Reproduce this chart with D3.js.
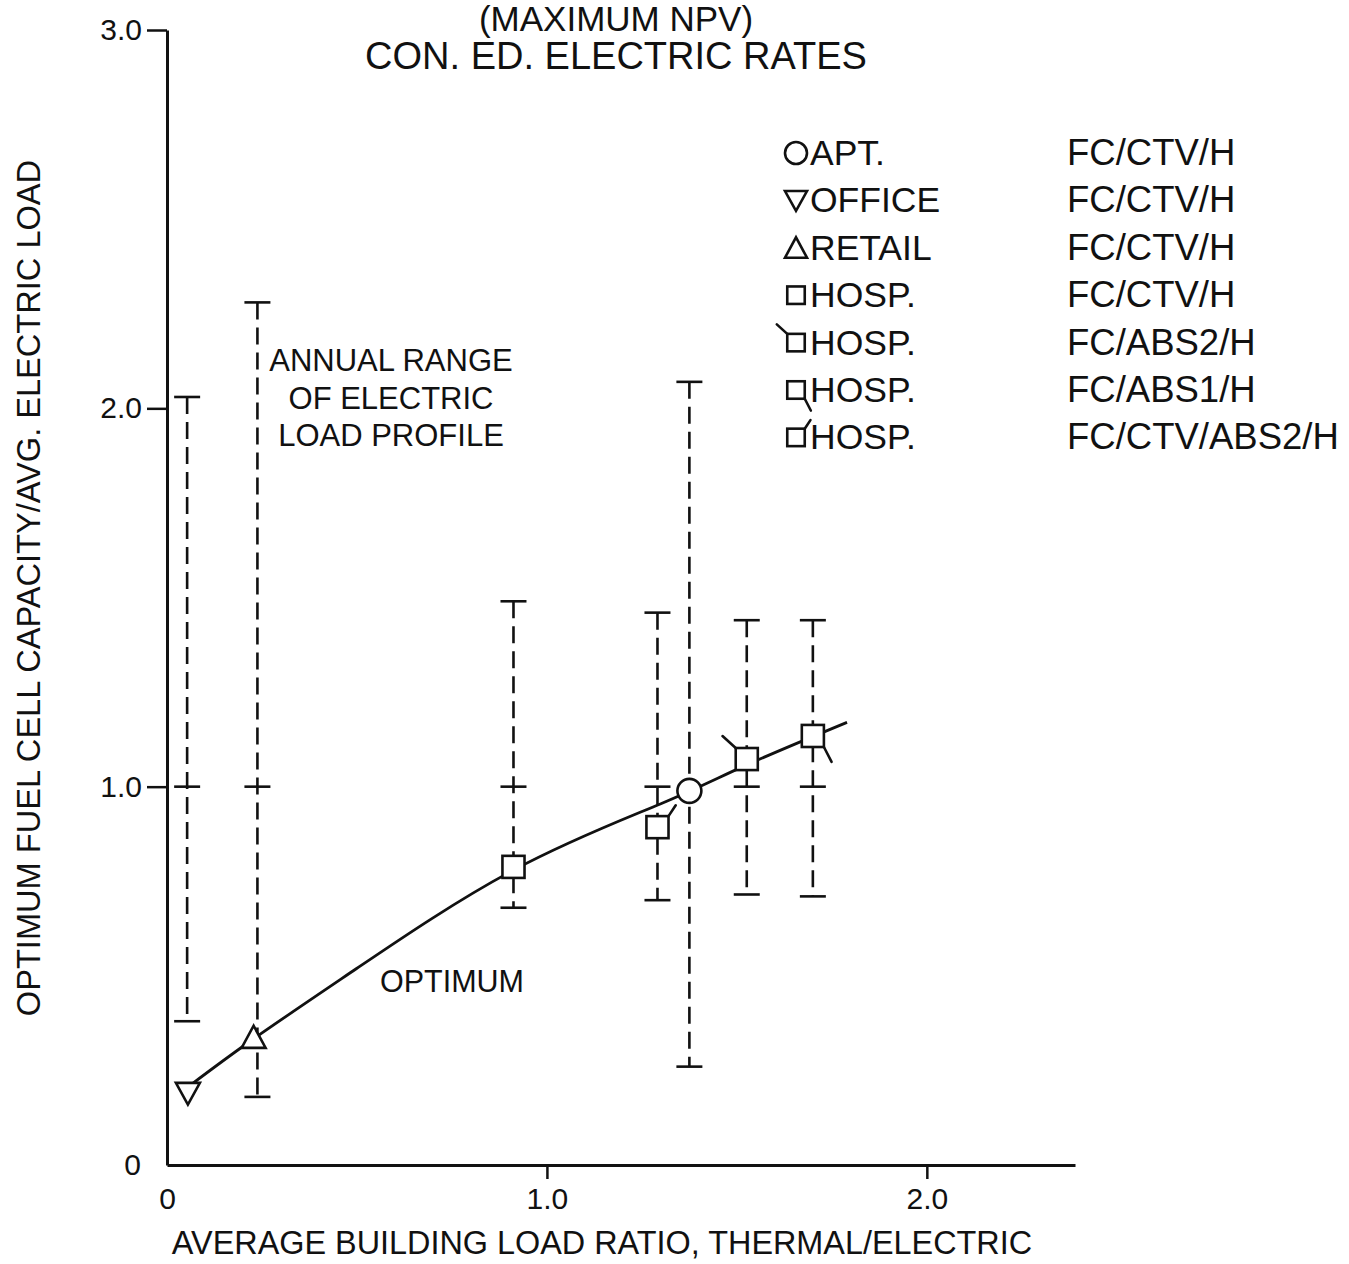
<!DOCTYPE html>
<html>
<head>
<meta charset="utf-8">
<script src="https://cdn.jsdelivr.net/npm/d3@7"></script>
<style>
  html, body { margin: 0; padding: 0; background: #fff; }
  svg { display: block; }
  text { font-family: "Liberation Sans", Arial, Helvetica, sans-serif; fill: #111; }
</style>
</head>
<body>
<div id="chart"></div>
<script>
// Annual range of the electric load profile (min / max of capacity ratio) per building case
const barX    = [0.053, 0.238, 0.912, 1.291, 1.375, 1.526, 1.700];
const barHigh = [2.03, 2.28, 1.49, 1.46, 2.07, 1.44, 1.44];
const barLow  = [0.38, 0.18, 0.68, 0.70, 0.26, 0.715, 0.71];
const barAvg  = [1.0, 1.0, 1.0, 1.0, null, 1.0, 1.0];

// Optimum fuel cell capacity points
const pointX    = [0.055, 0.228, 0.912, 1.291, 1.375, 1.526, 1.700];
const pointY    = [0.19, 0.338, 0.788, 0.893, 0.989, 1.073, 1.134];
const pointType = ["office", "retail", "hospCTV", "hospCTVABS2", "apt", "hospABS2", "hospABS1"];

// Smoothed optimum curve
const optX = [0.06, 0.23, 0.50, 0.913, 1.30, 1.52, 1.79];
const optY = [0.21, 0.335, 0.52, 0.78, 0.955, 1.055, 1.17];

// Legend
const legendType     = ["apt", "office", "retail", "hospCTV", "hospABS2", "hospABS1", "hospCTVABS2"];
const legendBuilding = ["APT.", "OFFICE", "RETAIL", "HOSP.", "HOSP.", "HOSP.", "HOSP."];
const legendSystem   = ["FC/CTV/H", "FC/CTV/H", "FC/CTV/H", "FC/CTV/H", "FC/ABS2/H", "FC/ABS1/H", "FC/CTV/ABS2/H"];

// Axis ticks
const xTicks = [0, 1, 2];
const yTicks = [0, 1, 2, 3];
const tickLabel = v => v === 0 ? "0" : d3.format(".1f")(v);

const titleLines = ["(MAXIMUM NPV)", "CON. ED. ELECTRIC RATES"];
const noteLines  = ["ANNUAL RANGE", "OF ELECTRIC", "LOAD PROFILE"];

const W = 1349, H = 1264;
const svg = d3.select("#chart").append("svg").attr("width", W).attr("height", H);

const x = d3.scaleLinear().domain([0, 2.39]).range([167, 1075]);
const y = d3.scaleLinear().domain([0, 3]).range([1165, 30]);

const ink = "#111";

// ---- axes ----
const gx = svg.append("g").attr("transform", `translate(0,${y(0)})`)
  .call(d3.axisBottom(x).tickValues(xTicks).tickFormat(tickLabel).tickSize(14).tickSizeOuter(0).tickPadding(9));
const gy = svg.append("g").attr("transform", `translate(${x(0)},0)`)
  .call(d3.axisLeft(y).tickValues(yTicks).tickFormat(tickLabel).tickSize(20).tickSizeOuter(0).tickPadding(5));
[gx, gy].forEach(g => {
  g.select(".domain").attr("stroke", ink).attr("stroke-width", 3);
  g.selectAll(".tick line").attr("stroke", ink).attr("stroke-width", 2.5)
    .filter(d => d === 0).remove();
  g.selectAll(".tick text").attr("font-size", 30).attr("fill", ink)
    .attr("font-family", '"Liberation Sans", Arial, sans-serif');
});
gy.selectAll(".tick text").filter(d => d === 0).attr("dx", -1);

// axis titles
svg.append("text").attr("x", 602).attr("y", 1254).attr("text-anchor", "middle")
  .attr("font-size", 32.4).text("AVERAGE BUILDING LOAD RATIO, THERMAL/ELECTRIC");
svg.append("text").attr("transform", `translate(40,588) rotate(-90)`).attr("text-anchor", "middle")
  .attr("font-size", 32.6).text("OPTIMUM FUEL CELL CAPACITY/AVG. ELECTRIC LOAD");

// chart title
svg.selectAll("text.title").data(titleLines).join("text").attr("class", "title")
  .attr("x", 616).attr("y", (d, i) => i === 0 ? 31 : 69).attr("text-anchor", "middle")
  .attr("font-size", (d, i) => i === 0 ? 35 : 38).text(d => d);

// ---- annual range bars ----
const capW = 13;
const bars = svg.append("g").attr("stroke", ink).attr("stroke-width", 2.6).attr("fill", "none");
barX.forEach((bx, i) => {
  const cx = x(bx);
  bars.append("line").attr("x1", cx).attr("x2", cx).attr("y1", y(barHigh[i])).attr("y2", y(barLow[i]))
    .attr("stroke-dasharray", "17,8");
  bars.append("line").attr("x1", cx - capW).attr("x2", cx + capW).attr("y1", y(barHigh[i])).attr("y2", y(barHigh[i]));
  bars.append("line").attr("x1", cx - capW).attr("x2", cx + capW).attr("y1", y(barLow[i])).attr("y2", y(barLow[i]));
  if (barAvg[i] !== null) {
    bars.append("line").attr("x1", cx - capW).attr("x2", cx + capW).attr("y1", y(barAvg[i])).attr("y2", y(barAvg[i]));
  }
});

// ---- optimum curve ----
const line = d3.line().x(d => x(d[0])).y(d => y(d[1])).curve(d3.curveNatural);
svg.append("path").datum(optX.map((v, i) => [v, optY[i]]))
  .attr("d", line).attr("fill", "none").attr("stroke", ink).attr("stroke-width", 2.8);

svg.append("text").attr("x", 452).attr("y", 992).attr("text-anchor", "middle")
  .attr("font-size", 30.5).text("OPTIMUM");

svg.selectAll("text.note").data(noteLines).join("text").attr("class", "note")
  .attr("x", 391).attr("y", (d, i) => 371 + i * 37.5).attr("text-anchor", "middle")
  .attr("font-size", 31).text(d => d);

// ---- marker shapes ----
function drawMarker(g, type, s) {
  const h = s / 2;
  const st = { stroke: ink, "stroke-width": 2.6, fill: "#fff" };
  const apply = sel => { Object.entries(st).forEach(([k, v]) => sel.attr(k, v)); return sel; };
  if (type === "apt") {
    apply(g.append("circle").attr("r", h));
  } else if (type === "office") {
    apply(g.append("path").attr("d", `M${-h},${-h * 0.85}L${h},${-h * 0.85}L0,${h * 0.95}Z`));
  } else if (type === "retail") {
    apply(g.append("path").attr("d", `M${-h},${h * 0.9}L${h},${h * 0.9}L0,${-h * 0.95}Z`));
  } else {
    const q = h * 0.92;
    apply(g.append("rect").attr("x", -q).attr("y", -q).attr("width", 2 * q).attr("height", 2 * q));
    const tail = { hospABS2: [-q, -q, -q - s * 0.55, -q - s * 0.5],
                   hospABS1: [q, q, q + s * 0.32, q + s * 0.62],
                   hospCTVABS2: [q, -q, q + s * 0.3, -q - s * 0.45] }[type];
    if (tail) {
      g.append("line").attr("x1", tail[0]).attr("y1", tail[1]).attr("x2", tail[2]).attr("y2", tail[3])
        .attr("stroke", ink).attr("stroke-width", 2.6).attr("stroke-linecap", "round");
    }
  }
}

pointX.forEach((px, i) => {
  const g = svg.append("g").attr("transform", `translate(${x(px)},${y(pointY[i])})`);
  drawMarker(g, pointType[i], 24);
});

// ---- legend ----
const legendRowY = d3.range(legendType.length).map(i => 165 + i * 47.4);
legendType.forEach((t, i) => {
  const g = svg.append("g").attr("transform", `translate(796,${legendRowY[i] - 12})`);
  drawMarker(g, t, t === "apt" || t === "office" || t === "retail" ? 22 : 19);
  svg.append("text").attr("x", 810).attr("y", legendRowY[i]).attr("font-size", 35.5).text(legendBuilding[i]);
  svg.append("text").attr("x", 1067).attr("y", legendRowY[i]).attr("font-size", 36.5).text(legendSystem[i]);
});
</script>
</body>
</html>
